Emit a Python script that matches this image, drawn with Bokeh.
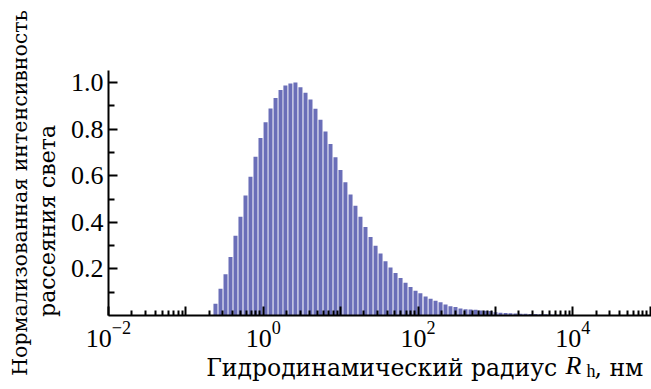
import numpy as np
from bokeh.plotting import figure
from bokeh.models import (FixedTicker, LogTickFormatter, Label, Range1d, PrintfTickFormatter,
                          ColumnDataSource, LinearAxis)
from bokeh.embed import file_html
from bokeh.resources import INLINE

# Hydrodynamic radius bin centers (nm) and normalized scattering intensity
radius_nm = [0.241, 0.280, 0.325, 0.377, 0.437, 0.507, 0.589, 0.683, 0.793, 0.920,
             1.07, 1.24, 1.44, 1.67, 1.93, 2.24, 2.60, 3.02, 3.51, 4.07,
             4.72, 5.48, 6.36, 7.38, 8.56, 9.93, 11.5, 13.4, 15.5, 18.0,
             20.9, 24.3, 28.2, 32.7, 37.9, 44.0, 51.1, 59.3, 68.8, 79.8,
             92.6, 107, 125, 145, 168, 195, 226, 262, 304, 353,
             410, 476, 552, 641, 743, 863, 1000, 1160, 1350, 1560,
             1810, 2110, 2440, 2830, 3290, 3820, 4430, 5140, 5960, 6920,
             8030, 9320, 10800]
intensity = [0.050, 0.115, 0.177, 0.251, 0.342, 0.424, 0.515, 0.596, 0.682, 0.762,
             0.830, 0.889, 0.934, 0.968, 0.988, 0.996, 1.000, 0.980, 0.956, 0.927,
             0.888, 0.840, 0.790, 0.736, 0.680, 0.625, 0.572, 0.520, 0.471, 0.424,
             0.380, 0.337, 0.299, 0.266, 0.233, 0.206, 0.183, 0.161, 0.141, 0.122,
             0.106, 0.096, 0.082, 0.072, 0.063, 0.057, 0.047, 0.040, 0.036, 0.030,
             0.027, 0.026, 0.025, 0.022, 0.020, 0.019, 0.014, 0.012, 0.011, 0.010,
             0.009, 0.008, 0.007, 0.006, 0.006, 0.005, 0.005, 0.004, 0.004, 0.003,
             0.003, 0.003, 0.002]

x_decades = [1e-2, 1e-1, 1e0, 1e1, 1e2, 1e3, 1e4, 1e5]
x_unlabeled = [1e-1, 1e1, 1e3, 1e5]
y_ticks = [0.2, 0.4, 0.6, 0.8, 1.0]
y_minor = [0.1, 0.3, 0.5, 0.7, 0.9]

y_title_1 = "Нормализованная интенсивность"
y_title_2 = "рассеяния света"
x_title_main = "Гидродинамический радиус"
x_title_sym = "R"
x_title_sub = "h"
x_title_unit = ", нм"

FONT = "Liberation Serif"
CYR_FONT = "DejaVu Serif"
NB = "\u00a0"

half_w = 10 ** 0.026
src = ColumnDataSource(dict(
    left=[r / half_w for r in radius_nm],
    right=[r * half_w for r in radius_nm],
    top=intensity,
))

p = figure(width=651, height=389, x_axis_type="log",
           x_range=Range1d(1e-2, 10 ** 5.0155), y_range=Range1d(0, 1.052),
           output_backend="svg", toolbar_location=None,
           min_border_left=108, min_border_right=0, min_border_top=70, min_border_bottom=74)
p.outline_line_color = None
p.xgrid.visible = False
p.ygrid.visible = False
p.background_fill_color = "white"
p.border_fill_color = "white"

p.quad(left="left", right="right", bottom=0, top="top", source=src,
       fill_color="#6a6eb8", line_color=None)

minor_x = [m * d for d in x_decades[:-1] for m in range(2, 10)]
xa = p.xaxis[0]
xa.ticker = FixedTicker(ticks=x_decades, minor_ticks=minor_x)
xa.formatter = LogTickFormatter()
xa.major_label_overrides = {t: "" for t in x_unlabeled}

ya = p.yaxis[0]
ya.ticker = FixedTicker(ticks=y_ticks, minor_ticks=y_minor)
ya.formatter = PrintfTickFormatter(format="%.1f")

for ax in (xa, ya):
    ax.axis_line_width = 2
    ax.axis_line_color = "black"
    ax.major_tick_line_width = 2
    ax.minor_tick_line_width = 2
    ax.major_tick_line_color = "black"
    ax.minor_tick_line_color = "black"
    ax.major_tick_out = 0
    ax.minor_tick_out = 0
    ax.major_label_text_font = FONT
    ax.major_label_text_font_size = "26px"
    ax.major_label_text_color = "black"
    ax.axis_label_text_font = CYR_FONT
    ax.axis_label_text_font_style = "normal"
    ax.axis_label_text_color = "black"
xa.major_tick_in = 9
xa.minor_tick_in = 5
xa.major_label_standoff = 6
ya.major_tick_in = 9
ya.minor_tick_in = 6
ya.major_label_standoff = 5

# y title: inner line on the tick axis, outer line on a bare axis
ya.axis_label = y_title_2 + NB * 8
ya.axis_label_text_font_size = "22px"
ya.axis_label_standoff = 8
ya2 = LinearAxis(axis_label=y_title_1, ticker=FixedTicker(ticks=[]),
                 axis_line_color=None, major_tick_line_color=None, minor_tick_line_color=None,
                 major_tick_in=0, major_tick_out=0, minor_tick_in=0, minor_tick_out=0,
                 major_label_standoff=0, axis_label_standoff=0,
                 axis_label_text_font=CYR_FONT, axis_label_text_font_size="20.5px",
                 axis_label_text_font_style="normal", axis_label_text_color="black")
p.add_layout(ya2, "left")

# x title: text on the axis, italic symbol and subscript as panel labels
xa.axis_label = NB * 12 + x_title_main + NB * 5 + x_title_unit
xa.axis_label_text_font_size = "23.5px"
xa.axis_label_standoff = 4

p.add_layout(Label(x=457, y=-295, x_units="screen", y_units="screen", text=x_title_sym,
                   text_align="left", text_baseline="alphabetic", text_font=FONT,
                   text_font_size="26px", text_font_style="italic", text_color="black"), "above")
p.add_layout(Label(x=478, y=-329, x_units="screen", y_units="screen", text=x_title_sub,
                   text_align="left", text_baseline="alphabetic", text_font=FONT,
                   text_font_size="18px", text_color="black"), "above")

open("out.html", "w").write(file_html(p, INLINE))
